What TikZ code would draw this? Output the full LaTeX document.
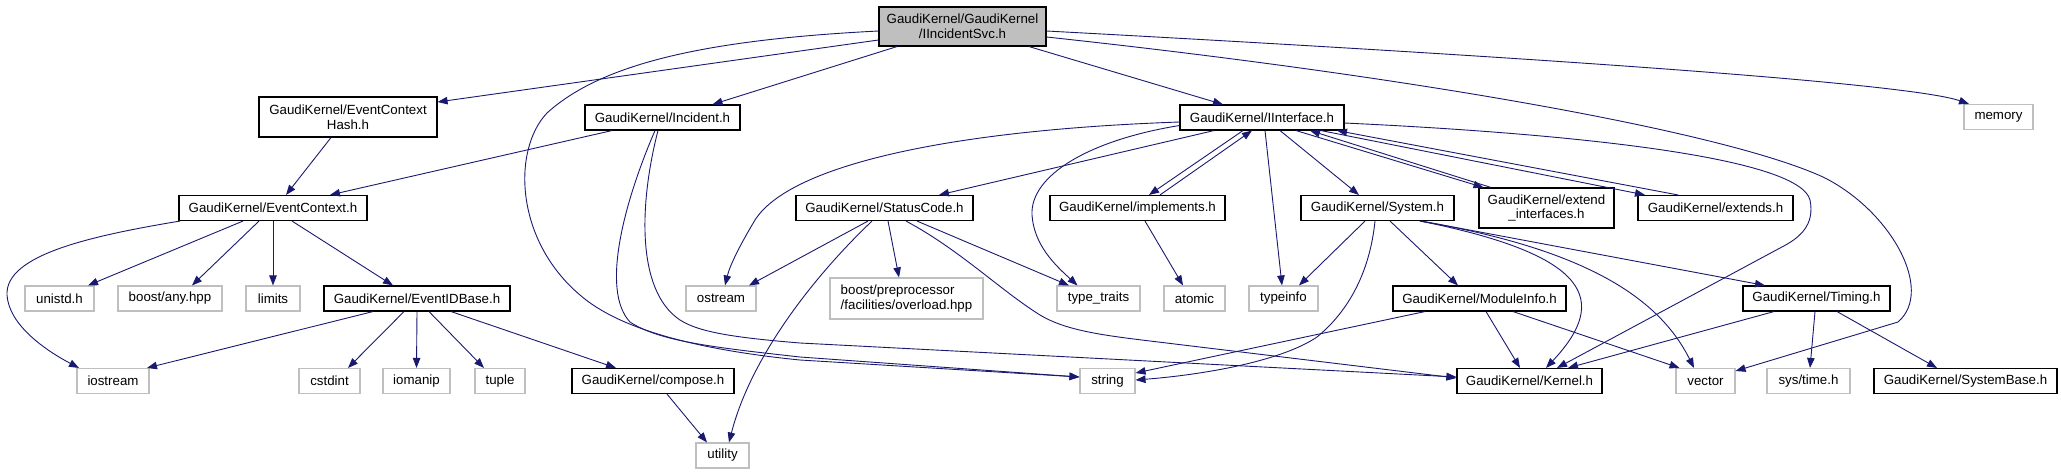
\documentclass[tikz,border=0pt]{standalone}
\usepackage{fontspec}
\setmainfont{Liberation Sans}
\usetikzlibrary{arrows.meta}
\definecolor{edgeblue}{HTML}{191970}
\definecolor{extgrey}{HTML}{BFBFBF}
\begin{document}
\begin{tikzpicture}[x=1pt,y=-1pt,
  box/.style={draw, line width=1.1pt, inner sep=0pt, font=\fontsize{13.3}{14.6}\selectfont, minimum height=25pt, align=center},
  doc/.style={box, draw=black},
  ext/.style={box, draw=extgrey},
  root/.style={box, draw=black, fill=extgrey},
  dep/.style={draw=edgeblue, line width=0.9pt, -{Triangle[length=10pt,width=7.5pt]}}
]
\useasboundingbox (0,0) rectangle (2061,475);
% nodes
\node[root, minimum width=167pt, minimum height=39pt] (top) at (962.5,26.5) {GaudiKernel/GaudiKernel\\/IIncidentSvc.h};
\node[doc, minimum width=178pt, minimum height=40pt] (ech) at (348,117) {GaudiKernel/EventContext\\Hash.h};
\node[doc, minimum width=155pt] (inc) at (662.5,117.5) {GaudiKernel/Incident.h};
\node[doc, minimum width=164pt] (iif) at (1262,117.5) {GaudiKernel/IInterface.h};
\node[ext, minimum width=69pt] (mem) at (1998.5,117) {memory};
\node[doc, minimum width=188pt] (ec) at (273,208) {GaudiKernel/EventContext.h};
\node[doc, minimum width=177pt] (sc) at (884.5,208) {GaudiKernel/StatusCode.h};
\node[doc, minimum width=175pt] (impl) at (1137.5,208) {GaudiKernel/implements.h};
\node[doc, minimum width=153pt] (sys) at (1377.5,208) {GaudiKernel/System.h};
\node[doc, minimum width=135pt, minimum height=40pt] (extif) at (1546.5,208) {GaudiKernel/extend\\\_interfaces.h};
\node[doc, minimum width=155pt] (exts) at (1715.5,208) {GaudiKernel/extends.h};
\node[ext, minimum width=69pt] (unistd) at (59.5,298.5) {unistd.h};
\node[ext, minimum width=104pt] (any) at (170,298.5) {boost/any.hpp};
\node[ext, minimum width=54pt] (limits) at (273,298.5) {limits};
\node[doc, minimum width=186pt] (eid) at (417,298.5) {GaudiKernel/EventIDBase.h};
\node[ext, minimum width=70pt] (ostream) at (721,298.5) {ostream};
\node[ext, minimum width=153pt, minimum height=41pt, align=left] (bpp) at (906.5,298.5) {boost/preprocessor\\/facilities/overload.hpp};
\node[ext, minimum width=83pt] (tt) at (1098.5,298.5) {type\_traits};
\node[ext, minimum width=61pt] (atomic) at (1194.5,298.5) {atomic};
\node[ext, minimum width=69pt] (typeinfo) at (1283.5,298.5) {typeinfo};
\node[doc, minimum width=173pt] (modinfo) at (1479.5,298.5) {GaudiKernel/ModuleInfo.h};
\node[doc, minimum width=147pt] (timing) at (1816.5,298.5) {GaudiKernel/Timing.h};
\node[ext, minimum width=72pt] (iostream) at (113,381) {iostream};
\node[ext, minimum width=61pt] (cstdint) at (329.5,381) {cstdint};
\node[ext, minimum width=67pt] (iomanip) at (416.5,381) {iomanip};
\node[ext, minimum width=50pt] (tuple) at (500,381) {tuple};
\node[doc, minimum width=162pt] (compose) at (653,381) {GaudiKernel/compose.h};
\node[ext, minimum width=55pt] (string) at (1107.5,381) {string};
\node[doc, minimum width=145pt] (kernel) at (1529.5,381) {GaudiKernel/Kernel.h};
\node[ext, minimum width=59pt] (vector) at (1705.5,381) {vector};
\node[ext, minimum width=83pt] (systime) at (1808.5,381) {sys/time.h};
\node[doc, minimum width=183pt] (sysbase) at (1965.5,381) {GaudiKernel/SystemBase.h};
\node[ext, minimum width=53pt] (utility) at (722.5,455.5) {utility};
% edges from IIncidentSvc
\draw[dep] ([yshift=-13.5pt]top.west) -- ([yshift=15pt]ech.east);
\draw[dep] ([yshift=-4.5pt]top.west) .. controls (700,40) and (600,65) .. (547,113)
   .. controls (512,150) and (515,240) .. (580,295)
   .. controls (620,330) and (700,350) .. (800,360) -- ([yshift=4pt]string.west);
\draw[dep] ([xshift=-65.5pt]top.south) -- ([xshift=50pt]inc.north);
\draw[dep] ([xshift=66.5pt]top.south) -- ([xshift=-39pt]iif.north);
\draw[dep] ([yshift=-4.5pt]top.east) .. controls (1400,50) and (1900,80) .. ([xshift=-29.5pt]mem.north);
\draw[dep] ([yshift=-10.5pt]top.east) .. controls (1400,75) and (1720,130) .. (1823,177)
   .. controls (1890,210) and (1935,290) .. (1898,322) -- ([yshift=10pt]vector.east);
% Incident
\draw[dep] ([xshift=-50.5pt]inc.south) -- ([xshift=57pt]ec.north);
\draw[dep] ([xshift=-7.5pt]inc.south) .. controls (625,200) and (600,290) .. (630,322)
   .. controls (660,342) and (720,348) .. (800,357) -- ([yshift=4pt]string.west);
\draw[dep] ([xshift=-4.5pt]inc.south) .. controls (640,200) and (635,290) .. (680,320)
   .. controls (700,333) and (740,338) .. (800,343) -- ([yshift=4pt]kernel.west);
% EventContextHash / EventContext
\draw[dep] ([xshift=-17pt]ech.south) -- ([xshift=13pt]ec.north);
\draw[dep] ([xshift=-93pt]ec.south) .. controls (90,236) and (5,255) .. (7,295)
   .. controls (9,325) and (45,350) .. ([xshift=-34pt]iostream.north);
\draw[dep] ([xshift=-30pt]ec.south) -- ([xshift=28.5pt]unistd.north);
\draw[dep] ([xshift=-14pt]ec.south) -- ([xshift=22pt]any.north);
\draw[dep] (ec.south) -- (limits.north);
\draw[dep] ([xshift=19pt]ec.south) -- ([xshift=-24pt]eid.north);
% EventIDBase
\draw[dep] ([xshift=-44pt]eid.south) -- ([xshift=34pt]iostream.north);
\draw[dep] ([xshift=-13pt]eid.south) -- ([xshift=18.5pt]cstdint.north);
\draw[dep] (eid.south) -- (iomanip.north);
\draw[dep] ([xshift=12pt]eid.south) -- ([xshift=-16pt]tuple.north);
\draw[dep] ([xshift=34pt]eid.south) -- ([xshift=-37pt]compose.north);
\draw[dep] ([xshift=14pt]compose.south) -- ([xshift=-15.5pt]utility.north);
% IInterface
\draw[dep] ([yshift=-4.5pt]iif.west) .. controls (950,130) and (790,165) .. (755,220)
   .. controls (740,245) and (730,265) .. ([xshift=4pt]ostream.north);
\draw[dep] ([xshift=-48pt]iif.south) -- ([xshift=54.5pt]sc.north);
\draw[dep] ([xshift=-19pt]iif.south) -- ([xshift=11.5pt]impl.north);
\draw[dep] ([xshift=22.5pt]impl.north) -- ([xshift=-10pt]iif.south);
\draw[dep] ([yshift=-8pt]iif.west) .. controls (1090,140) and (1030,175) .. (1032,215)
   .. controls (1034,245) and (1055,265) .. ([xshift=-21pt]tt.north);
\draw[dep] ([xshift=3pt]iif.south) -- ([xshift=-1.5pt]typeinfo.north);
\draw[dep] ([xshift=18pt]iif.south) -- ([xshift=-18.5pt]sys.north);
\draw[dep] ([xshift=34pt]iif.south) -- ([xshift=-63pt]extif.north);
\draw[dep] ([xshift=-55.5pt]extif.north) -- ([xshift=48pt]iif.south);
\draw[dep] ([xshift=59pt]iif.south) -- ([xshift=-70.5pt]exts.north);
\draw[dep] ([xshift=-37.5pt]exts.north) -- ([xshift=75pt]iif.south);
\draw[dep] ([yshift=-5.5pt]iif.east) .. controls (1600,135) and (1800,160) .. (1810,200)
   .. controls (1815,225) and (1800,238) .. (1780,248) -- ([xshift=27.5pt]kernel.north);
% implements
\draw[dep] ([xshift=7.5pt]impl.south) -- ([xshift=-11.5pt]atomic.north);
% StatusCode
\draw[dep] ([xshift=-16.5pt]sc.south) -- ([xshift=28pt]ostream.north);
\draw[dep] ([xshift=-12.5pt]sc.south) .. controls (810,280) and (750,360) .. ([xshift=6.5pt]utility.north);
\draw[dep] ([xshift=3.5pt]sc.south) -- ([xshift=-7.5pt]bpp.north);
\draw[dep] ([xshift=32.5pt]sc.south) -- ([xshift=-29.5pt]tt.north);
\draw[dep] ([xshift=21.5pt]sc.south) .. controls (960,250) and (1000,290) .. (1040,315)
   .. controls (1065,330) and (1100,335) .. (1150,341) -- ([yshift=3pt]kernel.west);
% System
\draw[dep] ([xshift=-12.5pt]sys.south) -- ([xshift=15.5pt]typeinfo.north);
\draw[dep] ([xshift=-2.5pt]sys.south) .. controls (1370,270) and (1350,310) .. (1317,337)
   .. controls (1280,362) and (1200,375) .. ([yshift=1pt]string.east);
\draw[dep] ([xshift=12.5pt]sys.south) -- ([xshift=-21.5pt]modinfo.north);
\draw[dep] ([xshift=42.5pt]sys.south) .. controls (1590,255) and (1610,300) .. ([xshift=16.5pt]kernel.north);
\draw[dep] ([xshift=42.5pt]sys.south) .. controls (1590,250) and (1660,300) .. ([xshift=-11.5pt]vector.north);
\draw[dep] ([xshift=44pt]sys.south) -- ([xshift=-51.5pt]timing.north);
% ModuleInfo
\draw[dep] ([xshift=-54.5pt]modinfo.south) -- ([yshift=8pt]string.east);
\draw[dep] ([xshift=6.5pt]modinfo.south) -- ([xshift=-9.5pt]kernel.north);
\draw[dep] ([xshift=33.5pt]modinfo.south) -- ([xshift=-26pt]vector.north);
% Timing
\draw[dep] ([xshift=-42.5pt]timing.south) -- ([xshift=38.5pt]kernel.north);
\draw[dep] ([xshift=-1.5pt]timing.south) -- ([xshift=1.5pt]systime.north);
\draw[dep] ([xshift=20.5pt]timing.south) -- ([xshift=-28.5pt]sysbase.north);
\end{tikzpicture}
\end{document}
